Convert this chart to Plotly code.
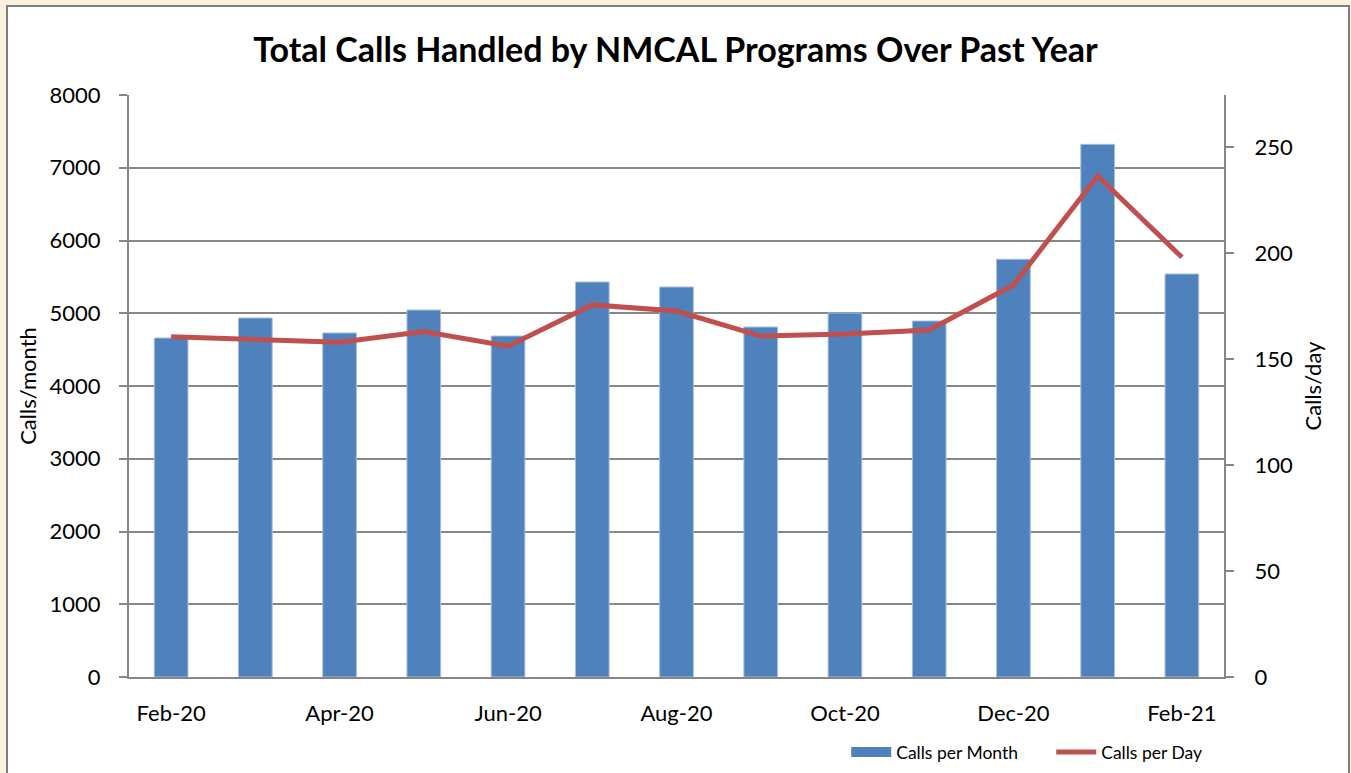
import plotly.graph_objects as go

months = ["Feb-20", "Mar-20", "Apr-20", "May-20", "Jun-20", "Jul-20", "Aug-20",
          "Sep-20", "Oct-20", "Nov-20", "Dec-20", "Jan-21", "Feb-21"]
calls_per_month = [4660, 4935, 4729, 5045, 4687, 5430, 5361, 4811, 5003, 4893, 5742, 7322, 5540]
calls_per_day = [160.5, 159.0, 157.9, 162.9, 156.0, 175.5, 172.6, 160.8, 161.8, 163.7, 184.9, 236.3, 198.0]
left_ticks = [0, 1000, 2000, 3000, 4000, 5000, 6000, 7000, 8000]
right_ticks = [0, 50, 100, 150, 200, 250]

idx = list(range(len(months)))
label_idx = idx[::2]
label_text = [months[i] for i in label_idx]
boundary_ticks = [i - 0.5 for i in idx[::2]]

FONT = "Lato, Carlito, 'Open Sans', sans-serif"
AX = "#868686"
BLUE = "#4F81BD"
RED = "#C0504D"
CREAM = "#FCF1DC"

fig = go.Figure()
fig.add_trace(go.Bar(
    x=idx, y=calls_per_month, name="Calls per Month", width=0.4,
    marker=dict(color=BLUE, line=dict(color="#A7BFDE", width=1)),
    yaxis="y", xaxis="x", showlegend=False,
))
fig.add_trace(go.Scatter(
    x=idx, y=calls_per_day, name="Calls per Day", mode="lines",
    line=dict(color=RED, width=5), yaxis="y2", xaxis="x", showlegend=False,
))
# legend entries (wide swatches like the original)
fig.add_trace(go.Scatter(x=[None], y=[None], name="Calls per Month", mode="lines",
                         line=dict(color=BLUE, width=11), yaxis="y", xaxis="x"))
fig.add_trace(go.Scatter(x=[None], y=[None], name="Calls per Day", mode="lines",
                         line=dict(color=RED, width=5), yaxis="y2", xaxis="x"))

fig.update_layout(
    width=1351, height=773,
    margin=dict(l=129, r=127, t=95, b=96, autoexpand=False),
    paper_bgcolor=CREAM,
    plot_bgcolor="rgba(0,0,0,0)",
    font=dict(family=FONT, color="black", size=22),
    title=dict(text="<b>Total Calls Handled by NMCAL Programs Over Past Year</b>",
               x=0.5, xref="container", xanchor="center",
               y=1 - 50 / 773, yref="container", yanchor="middle",
               font=dict(family=FONT, size=34, color="black")),
    xaxis=dict(range=[-0.5, 12.5], tickvals=label_idx, ticktext=label_text,
               ticks="", showgrid=False, showline=True, linecolor=AX, linewidth=2,
               zeroline=False, ticklabelstandoff=16, tickfont=dict(size=22),
               automargin=False),
    xaxis2=dict(range=[-0.5, 12.5], overlaying="x", anchor="y", side="bottom",
                tickvals=boundary_ticks, showticklabels=False, ticks="outside",
                ticklen=8, tickwidth=2, tickcolor=AX, showgrid=False,
                showline=False, zeroline=False, automargin=False),
    yaxis=dict(range=[0, 8000], tickvals=left_ticks, ticks="outside", ticklen=8,
               tickwidth=2, tickcolor=AX, showline=True, linecolor=AX, linewidth=2,
               gridcolor=AX, gridwidth=1.5, zeroline=False,
               ticklabelstandoff=14, automargin=False,
               title=dict(text="Calls/month", standoff=7, font=dict(size=22))),
    yaxis2=dict(range=[0, 274.5], tickvals=right_ticks, overlaying="y", side="right",
                ticks="outside", ticklen=8, tickwidth=2, tickcolor=AX,
                showline=True, linecolor=AX, linewidth=2, showgrid=False,
                zeroline=False, ticklabelstandoff=16, automargin=False,
                title=dict(text="Calls/day", standoff=14, font=dict(size=22))),
    legend=dict(orientation="h", x=0.655, xanchor="left", y=-0.129, yanchor="middle",
                font=dict(size=17.5), bgcolor="rgba(0,0,0,0)", traceorder="normal",
                itemwidth=40, entrywidth=150),
    showlegend=True,
    shapes=[dict(type="rect", xref="paper", yref="paper",
                 x0=(7 - 129) / 1095, x1=(1349 - 129) / 1095,
                 y0=(677 - 800) / 582, y1=(677 - 6) / 582,
                 fillcolor="white", line=dict(color="#7F7F7F", width=2),
                 layer="below")],
)

fig.write_html(
    "out.html",
    config={"displayModeBar": False},
    post_script="document.body.style.margin='0';document.body.style.background='" + CREAM + "';",
)
